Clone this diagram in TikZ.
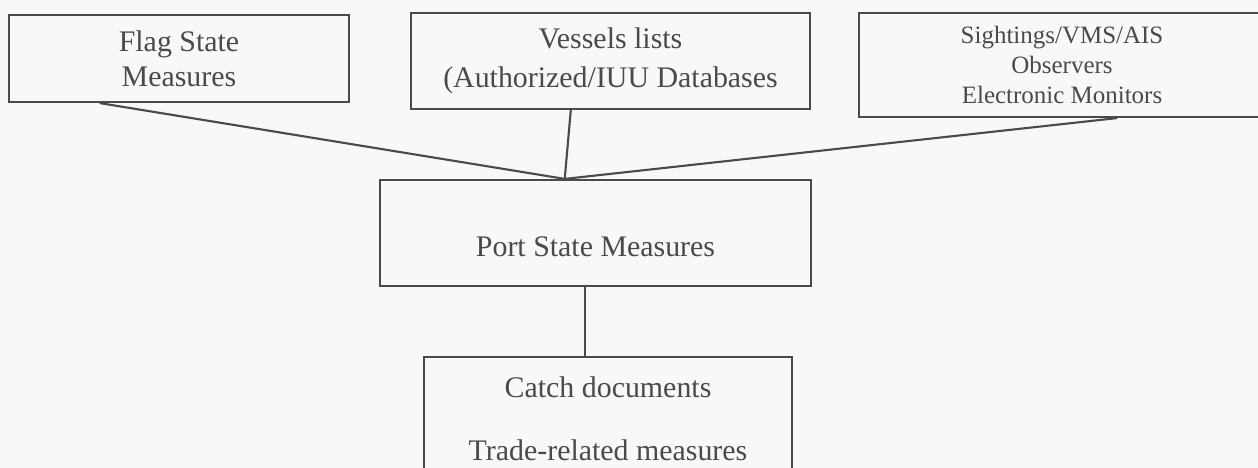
\documentclass[tikz,border=0pt]{standalone}
\usepackage{fontspec}
\setmainfont{Liberation Serif}
\usetikzlibrary{calc}
\definecolor{ink}{HTML}{4A4A4A}
\definecolor{paper}{HTML}{F9F8F8}
\tikzset{box/.style={draw=ink, line width=0.6pt, text=ink, inner sep=0pt, align=center, font=\fontsize{8.5}{10}\selectfont}}
\tikzset{link/.style={draw=ink, line width=0.6pt}}

\begin{document}
\begin{tikzpicture}[x=0.01cm, y=-0.01cm]
      \fill[paper] (0,0) rectangle (1258,468);
      \useasboundingbox (0,0) rectangle (1258,468);

      \node[box, minimum width=3.40cm, minimum height=0.87cm] (flag) at (179, 58.5) {Flag State\\Measures};
      \node[box, minimum width=3.99cm, minimum height=0.96cm, font=\fontsize{8.5}{11.1}\selectfont] (vessels) at (610.5, 61) {Vessels lists\\(Authorized/IUU Databases};
      \node[box, minimum width=4.06cm, minimum height=1.04cm, font=\fontsize{7.1}{8.4}\selectfont] (sight) at (1062, 65) {Sightings/VMS/AIS\\Observers\\Electronic Monitors};
      \node[box, minimum width=4.31cm, minimum height=1.06cm, text height=0.46cm, text depth=0pt] (port) at (595.5, 233) {Port State Measures};
      \node[box, minimum width=3.68cm, minimum height=1.23cm] (catch) at (608, 418.5) {Catch documents\\[7.9pt]Trade-related measures};

      \coordinate (hub) at ($(port.north west)!0.429!(port.north east)$);
      \coordinate (down) at ($(port.south west)!0.476!(port.south east)$);

      \draw[link] ($(flag.south west)!0.268!(flag.south east)$) -- (hub);
      \draw[link] ($(vessels.south west)!0.401!(vessels.south east)$) -- (hub);
      \draw[link] ($(sight.south west)!0.635!(sight.south east)$) -- (hub);
      \draw[link] (down) -- (down |- catch.north);

    \end{tikzpicture}
\end{document}
